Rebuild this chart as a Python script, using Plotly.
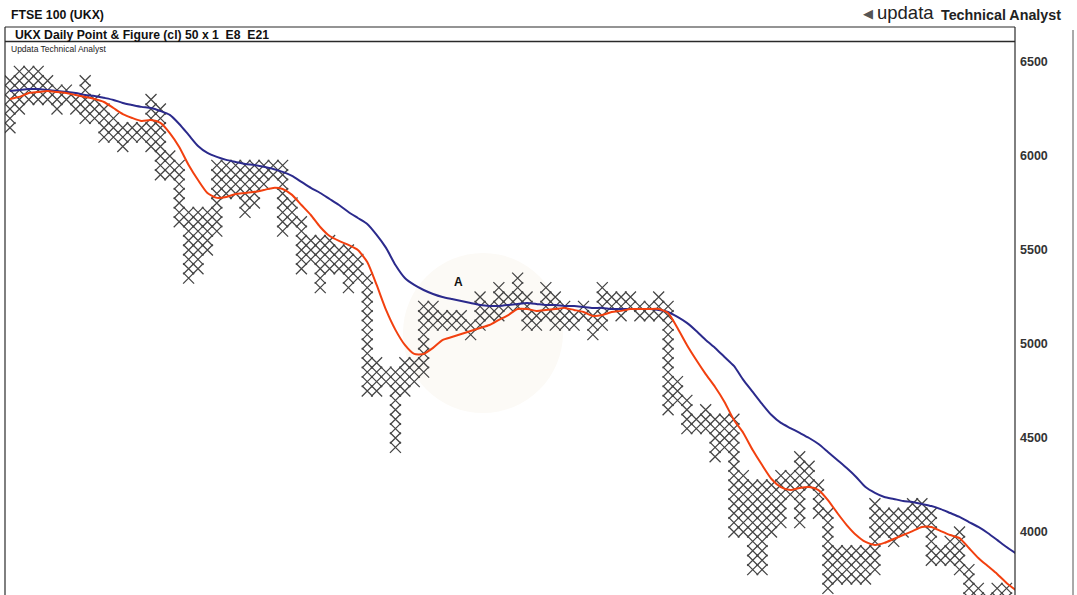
import plotly.graph_objects as go

# ---------------- data ----------------
box_size = 50
col_high = [6400, 6450, 6450, 6450, 6400, 6350, 6350, 6300, 6400, 6300,
            6250, 6200, 6150, 6150, 6150, 6300, 6250, 6000, 5950, 5700,
            5700, 5700, 5950, 5950, 5950, 5950, 5950, 5950, 5950, 5950,
            5750, 5650, 5550, 5550, 5550, 5500, 5500, 5450, 5350, 4900,
            4850, 4850, 4900, 4900, 5200, 5200, 5150, 5150, 5150, 5100,
            5250, 5200, 5300, 5250, 5350, 5250, 5150, 5300, 5250, 5200,
            5150, 5200, 5150, 5300, 5250, 5250, 5250, 5200, 5200, 5250,
            5200, 4800, 4700, 4600, 4650, 4600, 4600, 4600, 4300, 4250,
            4250, 4250, 4300, 4300, 4400, 4350, 4250, 4100, 3900, 3900,
            3900, 3900, 4150, 4100, 4100, 4100, 4150, 4150, 4100, 3900,
            3950, 4000, 3800, 3700, 3650, 3700, 3700]
col_low = [6150, 6250, 6300, 6300, 6300, 6250, 6300, 6250, 6200, 6200,
           6100, 6100, 6050, 6100, 6100, 6050, 5900, 5900, 5650, 5350,
           5400, 5500, 5600, 5800, 5800, 5700, 5750, 5850, 5900, 5600,
           5650, 5400, 5450, 5300, 5400, 5400, 5300, 5350, 4750, 4750,
           4800, 4450, 4750, 4800, 4850, 5100, 5100, 5100, 5100, 5050,
           5100, 5150, 5150, 5200, 5200, 5100, 5100, 5150, 5100, 5100,
           5100, 5150, 5050, 5100, 5200, 5150, 5200, 5150, 5150, 5150,
           4650, 4700, 4550, 4550, 4550, 4400, 4450, 4000, 4000, 3800,
           3800, 4000, 4050, 4200, 4050, 4250, 4100, 3700, 3750, 3750,
           3750, 3750, 3800, 4000, 3950, 4000, 4050, 4050, 3850, 3850,
           3850, 3800, 3650, 3650, 3650, 3650, 3650]

# E8 / E21 averages read at each column (last value reaches the price axis)
ema8 = [6303, 6314, 6335, 6340, 6346, 6340, 6335, 6324, 6314, 6303,
        6287, 6255, 6223, 6202, 6186, 6191, 6176, 6122, 6048, 5952,
        5872, 5803, 5777, 5782, 5798, 5803, 5809, 5819, 5830, 5824,
        5793, 5739, 5686, 5622, 5574, 5548, 5527, 5500, 5436, 5314,
        5181, 5075, 4995, 4947, 4947, 4979, 5021, 5037, 5053, 5069,
        5085, 5101, 5128, 5154, 5186, 5186, 5176, 5181, 5186, 5192,
        5181, 5170, 5149, 5154, 5170, 5176, 5186, 5186, 5186, 5186,
        5165, 5085, 4995, 4915, 4840, 4771, 4692, 4596, 4527, 4436,
        4356, 4282, 4239, 4223, 4234, 4239, 4223, 4170, 4101, 4037,
        3984, 3947, 3931, 3942, 3963, 3984, 4005, 4027, 4027, 4005,
        3984, 3968, 3915, 3862, 3819, 3777, 3729, 3690]

ema21 = [6346, 6351, 6356, 6356, 6351, 6346, 6340, 6335, 6324, 6319,
         6309, 6298, 6282, 6271, 6261, 6255, 6239, 6218, 6170, 6112,
         6053, 6016, 5995, 5979, 5968, 5957, 5952, 5942, 5931, 5915,
         5894, 5862, 5830, 5803, 5771, 5739, 5702, 5670, 5638, 5580,
         5511, 5420, 5351, 5314, 5287, 5266, 5250, 5239, 5229, 5218,
         5207, 5202, 5202, 5207, 5213, 5218, 5213, 5207, 5207, 5202,
         5202, 5197, 5192, 5192, 5186, 5186, 5186, 5186, 5186, 5181,
         5170, 5144, 5112, 5069, 5021, 4979, 4931, 4883, 4809, 4745,
         4681, 4622, 4580, 4553, 4527, 4500, 4468, 4426, 4383, 4340,
         4293, 4239, 4208, 4186, 4176, 4165, 4160, 4149, 4138, 4122,
         4101, 4080, 4053, 4027, 3995, 3958, 3920, 3886]

y_ticks = [4000, 4500, 5000, 5500, 6000, 6500]

# ---------------- build P&F boxes ----------------
xs, ys = [], []
for i, (lo, hi) in enumerate(zip(col_low, col_high)):
    v = lo
    while v <= hi:
        xs.append(i)
        ys.append(v)
        v += box_size

line_cols = list(range(len(ema8)))

W, H = 1077, 595
ML, MR, MT, MB = 5, 62, 42, 0
PW, PH = W - ML - MR, H - MT - MB


def px(x):
    return (x - ML) / PW


def py(y):
    return (H - MB - y) / PH


fig = go.Figure()

fig.add_trace(go.Scatter(
    x=xs, y=ys, mode="markers",
    marker=dict(symbol="x-thin", size=11, line=dict(color="#444444", width=1.25)),
    hoverinfo="skip", showlegend=False))

fig.add_trace(go.Scatter(
    x=line_cols, y=ema21, mode="lines",
    line=dict(color="#2b2a8c", width=2, shape="spline", smoothing=0.6),
    showlegend=False, hoverinfo="skip"))

fig.add_trace(go.Scatter(
    x=line_cols, y=ema8, mode="lines",
    line=dict(color="#f2400f", width=2, shape="spline", smoothing=0.6),
    showlegend=False, hoverinfo="skip"))

line_col = "#2a2a2a"
shapes = [
    # faint watermark circle behind "A"
    dict(type="circle", xref="paper", yref="paper",
         x0=px(403), x1=px(563), y0=py(413), y1=py(253),
         fillcolor="#fcfaf6", line=dict(width=0), layer="below"),
    # header box top line
    dict(type="line", xref="paper", yref="paper", x0=px(5), x1=px(1015),
         y0=py(27), y1=py(27), line=dict(color=line_col, width=1.2)),
    # header box bottom line
    dict(type="line", xref="paper", yref="paper", x0=px(5), x1=px(1015),
         y0=py(41.5), y1=py(41.5), line=dict(color=line_col, width=1.6)),
    # left border
    dict(type="line", xref="paper", yref="paper", x0=px(5), x1=px(5),
         y0=py(27), y1=py(H), line=dict(color=line_col, width=1.2)),
    # right axis line
    dict(type="line", xref="paper", yref="paper", x0=px(1015), x1=px(1015),
         y0=py(27), y1=py(H), line=dict(color=line_col, width=1.2)),
    # outer right frame
    dict(type="line", xref="paper", yref="paper", x0=px(1073), x1=px(1073),
         y0=py(30), y1=py(H), line=dict(color="#555555", width=1)),
]

font_fam = "Liberation Sans, Arial, sans-serif"
annotations = [
    dict(text="<b>FTSE 100 (UKX)</b>", x=px(9), y=py(15), xref="paper", yref="paper",
         xanchor="left", yanchor="middle", showarrow=False,
         font=dict(family=font_fam, size=12.3, color="#111111")),
    dict(text="<b>UKX Daily Point &amp; Figure (cl) 50 x 1  E8  E21</b>", x=px(13), y=py(34.5),
         xref="paper", yref="paper", xanchor="left", yanchor="middle", showarrow=False,
         font=dict(family=font_fam, size=12.2, color="#111111")),
    dict(text="Updata Technical Analyst", x=px(9), y=py(49), xref="paper", yref="paper",
         xanchor="left", yanchor="middle", showarrow=False,
         font=dict(family=font_fam, size=8.5, color="#222222")),
    dict(text="◀", x=px(861), y=py(14), xref="paper", yref="paper",
         xanchor="left", yanchor="middle", showarrow=False,
         font=dict(family="DejaVu Sans", size=13, color="#555555")),
    dict(text="updata", x=px(875), y=py(12), xref="paper", yref="paper",
         xanchor="left", yanchor="middle", showarrow=False,
         font=dict(family=font_fam, size=18.5, color="#222222")),
    dict(text="<b>Technical Analyst</b>", x=px(939), y=py(14.5), xref="paper", yref="paper",
         xanchor="left", yanchor="middle", showarrow=False,
         font=dict(family=font_fam, size=14.3, color="#222222")),
    dict(text="<b>A</b>", x=px(458), y=py(282), xref="paper", yref="paper",
         xanchor="center", yanchor="middle", showarrow=False,
         font=dict(family=font_fam, size=12, color="#111111")),
]

fig.update_layout(
    width=W, height=H,
    margin=dict(l=ML, r=MR, t=MT, b=MB),
    paper_bgcolor="white", plot_bgcolor="white",
    xaxis=dict(range=[-0.53, 106.9], visible=False, showgrid=False, zeroline=False),
    yaxis=dict(range=[3665, 6606], side="right", tickvals=y_ticks,
               ticktext=[str(v) for v in y_ticks], showgrid=False, zeroline=False,
               showline=False, ticks="", ticklabelstandoff=4,
               tickfont=dict(family=font_fam, size=12.5, color="#333333", weight="bold")),
    shapes=shapes, annotations=annotations,
)

fig.write_html("out.html", config={"displayModeBar": False},
               post_script="document.body.style.margin='0px';")
